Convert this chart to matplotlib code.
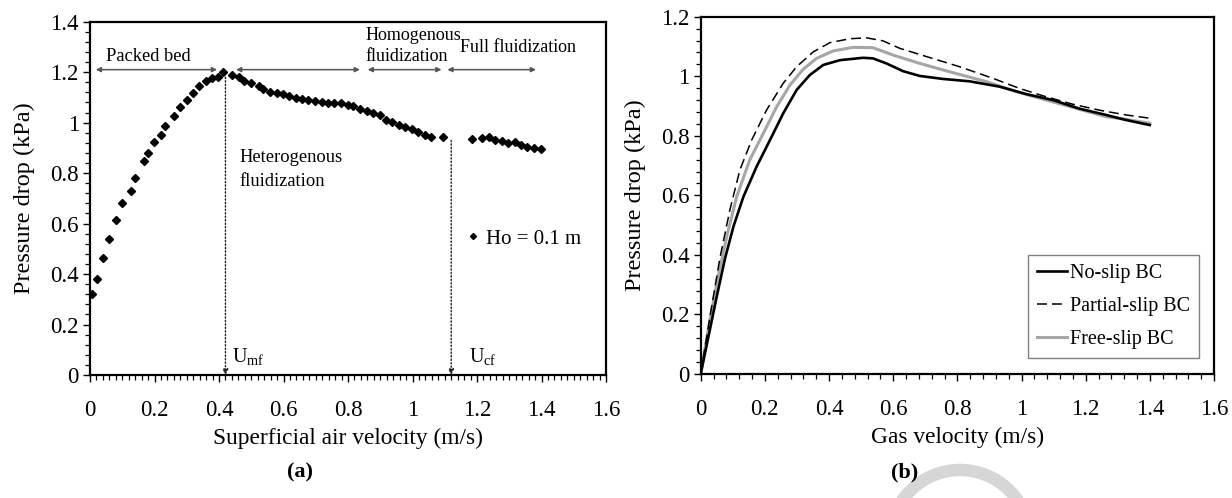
import matplotlib
matplotlib.use("Agg")
import matplotlib.pyplot as plt
from matplotlib.ticker import MultipleLocator, FuncFormatter
from matplotlib.patches import Arc

plt.rcParams['font.family'] = ['Liberation Serif', 'DejaVu Serif']
plt.rcParams['mathtext.fontset'] = 'custom'
plt.rcParams['mathtext.rm'] = 'Liberation Serif'

# (a) experimental pressure drop, Ho = 0.1 m
vel_a = [0.007, 0.021, 0.039, 0.060, 0.080, 0.100, 0.126, 0.140, 0.167, 0.179,
         0.198, 0.220, 0.233, 0.260, 0.280, 0.300, 0.318, 0.339, 0.359, 0.379,
         0.397, 0.412, 0.439, 0.463, 0.478, 0.499, 0.525, 0.537, 0.558, 0.579,
         0.597, 0.618, 0.639, 0.657, 0.676, 0.698, 0.718, 0.737, 0.758, 0.778,
         0.799, 0.816, 0.837, 0.858, 0.878, 0.899, 0.918, 0.937, 0.958, 0.977,
         0.997, 1.017, 1.038, 1.057, 1.096, 1.185, 1.216, 1.236, 1.256, 1.277,
         1.297, 1.317, 1.336, 1.356, 1.377, 1.398]
dp_a = [0.320, 0.380, 0.465, 0.540, 0.614, 0.680, 0.731, 0.782, 0.848, 0.878,
        0.924, 0.950, 0.988, 1.025, 1.062, 1.090, 1.117, 1.147, 1.164, 1.175,
        1.181, 1.199, 1.189, 1.182, 1.166, 1.156, 1.145, 1.132, 1.122, 1.117,
        1.113, 1.106, 1.099, 1.095, 1.091, 1.086, 1.081, 1.076, 1.076, 1.076,
        1.068, 1.064, 1.056, 1.048, 1.040, 1.032, 1.011, 1.001, 0.990, 0.983,
        0.975, 0.961, 0.952, 0.942, 0.944, 0.935, 0.938, 0.942, 0.931, 0.929,
        0.921, 0.923, 0.910, 0.904, 0.898, 0.894]

u_mf = 0.42
u_cf = 1.12

# (b) simulated pressure drop for three wall boundary conditions
v_noslip = [0, 0.05, 0.076, 0.102, 0.133, 0.174, 0.216, 0.257, 0.299, 0.340,
            0.382, 0.434, 0.506, 0.537, 0.579, 0.631, 0.683, 0.755, 0.838,
            0.932, 1.015, 1.098, 1.181, 1.264, 1.326, 1.40]
dp_noslip = [0, 0.26, 0.389, 0.495, 0.595, 0.696, 0.786, 0.875, 0.954, 1.004,
             1.038, 1.054, 1.062, 1.060, 1.043, 1.017, 1.001, 0.991, 0.983,
             0.965, 0.940, 0.920, 0.891, 0.870, 0.853, 0.836]

v_partial = [0, 0.03, 0.06, 0.091, 0.122, 0.159, 0.205, 0.257, 0.299, 0.351,
             0.403, 0.465, 0.517, 0.568, 0.620, 0.704, 0.807, 0.911, 0.994,
             1.077, 1.160, 1.243, 1.326, 1.40]
dp_partial = [0, 0.20, 0.39, 0.551, 0.685, 0.786, 0.886, 0.976, 1.032, 1.082,
              1.113, 1.126, 1.129, 1.119, 1.094, 1.066, 1.032, 0.993, 0.959,
              0.931, 0.906, 0.886, 0.870, 0.859]

v_free = [0, 0.03, 0.055, 0.081, 0.112, 0.153, 0.195, 0.237, 0.278, 0.319,
          0.361, 0.413, 0.475, 0.537, 0.600, 0.683, 0.776, 0.890, 0.984,
          1.077, 1.171, 1.264, 1.326, 1.40]
dp_free = [0, 0.19, 0.33, 0.461, 0.595, 0.719, 0.808, 0.898, 0.970, 1.023,
           1.060, 1.085, 1.097, 1.096, 1.071, 1.043, 1.015, 0.982, 0.948,
           0.920, 0.892, 0.864, 0.855, 0.842]

W, H = 1232, 498
fig = plt.figure(figsize=(W / 100, H / 100), dpi=100)
ax1 = fig.add_axes([90 / W, (H - 375) / H, 516 / W, 353.3 / H])
ax2 = fig.add_axes([700.7 / W, (H - 374) / H, 513.3 / W, 357.3 / H])

fmt = FuncFormatter(lambda v, p: f"{v:g}")


def style(ax, xminor, ymax, yminor):
    ax.set_xlim(0, 1.6)
    ax.set_ylim(0, ymax)
    ax.xaxis.set_major_locator(MultipleLocator(0.2))
    ax.xaxis.set_minor_locator(MultipleLocator(xminor))
    ax.yaxis.set_major_locator(MultipleLocator(0.2))
    ax.yaxis.set_minor_locator(MultipleLocator(yminor))
    ax.xaxis.set_major_formatter(fmt)
    ax.yaxis.set_major_formatter(fmt)
    for s in ax.spines.values():
        s.set_linewidth(1.6)
    ax.tick_params(which='major', direction='out', length=5, width=1,
                   labelsize=16.5)
    ax.tick_params(which='minor', direction='out', length=3.5, width=0.9)
    ax.tick_params(axis='x', which='major', pad=13)
    ax.tick_params(axis='y', which='major', pad=3)


style(ax1, 0.02, 1.4, 0.04)
style(ax2, 0.04, 1.2, 0.04)

# panel (a)
ax1.plot(vel_a, dp_a, 'D', color='black', ms=3.6, ls='none',
         label='Ho = 0.1 m', zorder=3)
ax1.legend(loc='center left', bbox_to_anchor=(0.712, 0.385), frameon=False,
           handlelength=0.5, handletextpad=0.35, borderpad=0, fontsize=15,
           markerscale=0.85)

arrow = dict(arrowstyle='<|-|>', color='#555555', lw=1.1, mutation_scale=7,
             shrinkA=0, shrinkB=0)
for x0, x1 in [(0.018, 0.394), (0.453, 0.837), (0.861, 1.090), (1.108, 1.383)]:
    ax1.annotate('', xy=(x0, 1.21), xytext=(x1, 1.21), arrowprops=arrow)

ax1.text(0.05, 1.262, 'Packed bed', fontsize=13.3, va='center')
ax1.text(0.462, 0.815, 'Heterogenous\nfluidization', fontsize=13.3,
         va='center', linespacing=1.5)
ax1.text(0.855, 1.305, 'Homogenous\nfluidization', fontsize=13,
         va='center', linespacing=1.3)
ax1.text(1.147, 1.296, 'Full fluidization', fontsize=13, va='center')

dot = dict(arrowstyle='-|>', color='#222222', lw=1, ls=(0, (1, 1.5)),
           mutation_scale=8, shrinkA=0, shrinkB=0)
ax1.annotate('', xy=(u_mf, 0), xytext=(u_mf, 1.18), arrowprops=dot)
ax1.annotate('', xy=(u_cf, 0), xytext=(u_cf, 0.93), arrowprops=dot)
ax1.text(u_mf + 0.02, 0.07, r'U$_\mathregular{mf}$', fontsize=14.5,
         va='center')
ax1.text(u_cf + 0.055, 0.07, r'U$_\mathregular{cf}$', fontsize=14.5,
         va='center')

ax1.set_xlabel('Superficial air velocity (m/s)', fontsize=16.8, labelpad=5)
ax1.set_ylabel('Pressure drop (kPa)', fontsize=17.5, labelpad=11)

# panel (b)
ax2.plot(v_noslip, dp_noslip, color='black', lw=1.9, label='No-slip BC',
         zorder=4)
ax2.plot(v_partial, dp_partial, color='black', lw=1.1, dashes=(6.5, 3.3),
         label='Partial-slip BC', zorder=3)
ax2.plot(v_free, dp_free, color='#a6a6a6', lw=2.2, label='Free-slip BC',
         zorder=2)
leg = ax2.legend(loc='lower right', bbox_to_anchor=(0.971, 0.045),
                 fontsize=14.5, fancybox=False, edgecolor='#808080',
                 framealpha=1, handlelength=1.5, handletextpad=0.15,
                 borderpad=0.45, labelspacing=0.68, borderaxespad=0)
leg.get_frame().set_linewidth(1)

ax2.set_xlabel('Gas velocity (m/s)', fontsize=16.8, labelpad=5)
ax2.set_ylabel('Pressure drop (kPa)', fontsize=17.5, labelpad=11)

fig.text(300 / W, 1 - 472 / H, '(a)', fontsize=16, fontweight='bold',
         ha='center', va='center')
fig.text(905 / W, 1 - 472 / H, '(b)', fontsize=16, fontweight='bold',
         ha='center', va='center', zorder=5)

# faint watermark swoosh near (b)
arc = Arc((960 / W, 1 - 540 / H), 140 / W, 140 / H, theta1=20, theta2=160,
          transform=fig.transFigure, color='#d6d6d6', lw=9, zorder=0)
fig.add_artist(arc)

fig.savefig('out.png', dpi=100)
